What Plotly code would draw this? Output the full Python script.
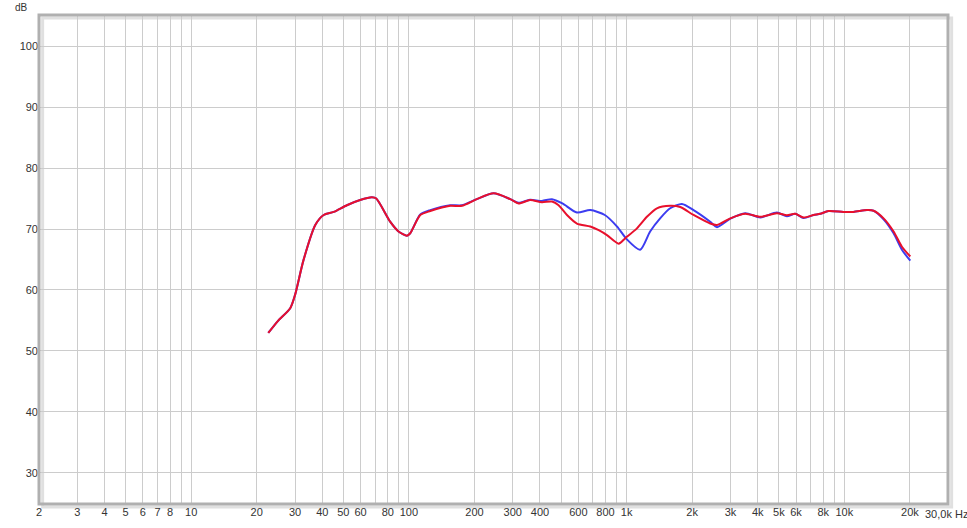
import math
import plotly.graph_objects as go

# frequency response (Hz, dB)
freq_red = [22.6, 25, 28.5, 30, 32.8, 37.2, 40.6, 45.1, 51.9, 59.7, 67.6, 70.8, 82, 89.6, 97.9,
            101.4, 112.8, 125.3, 154.8, 175, 205, 245, 292, 319, 360, 408, 454, 487, 532, 591,
            681, 744, 812, 919, 986, 1115, 1239, 1377, 1585, 1762, 2029, 2421, 2600, 2995, 3508,
            4113, 4900, 5445, 5945, 6495, 7224, 7750, 8460, 9910, 11000, 12700, 13620, 15140,
            16830, 18380, 20080]
db_red = [52.95, 54.9, 57.0, 59.2, 64.9, 70.7, 72.3, 72.8, 73.9, 74.75, 75.2, 75.0, 71.2, 69.6, 68.9,
          69.3, 72.3, 72.95, 73.8, 73.8, 74.9, 75.85, 74.9, 74.2, 74.75, 74.4, 74.5, 73.9, 72.3, 70.9,
          70.4, 69.8, 69.0, 67.6, 68.5, 70.1, 72.0, 73.4, 73.8, 73.6, 72.3, 70.9, 70.65, 71.75, 72.5,
          72.0, 72.6, 72.25, 72.5, 71.9, 72.3, 72.5, 72.95, 72.8, 72.8, 73.1, 73.0, 71.75,
          69.6, 67.1, 65.5]

freq_blue = [22.6, 25, 28.5, 30, 32.8, 37.2, 40.6, 45.1, 51.9, 59.7, 67.6, 70.8, 82, 89.6, 97.9,
             101.4, 112.8, 125.3, 154.8, 175, 205, 245, 292, 319, 360, 408, 454, 507, 591, 681,
             794, 904, 1003, 1153, 1282, 1425, 1585, 1795, 2029, 2421, 2600, 2995, 3508, 4113,
             4900, 5445, 5945, 6495, 7224, 7750, 8460, 9910, 11000, 12700, 13620, 15140, 16830,
             18380, 20080]
db_blue = [52.95, 54.9, 57.0, 59.2, 64.9, 70.7, 72.3, 72.8, 73.9, 74.75, 75.2, 75.0, 71.2, 69.6, 68.9,
           69.3, 72.4, 73.1, 73.9, 73.9, 74.9, 75.85, 74.9, 74.3, 74.8, 74.6, 74.9, 74.2, 72.7, 73.1,
           72.3, 70.4, 68.3, 66.6, 69.6, 71.75, 73.4, 74.1, 73.1, 71.2, 70.3, 71.7, 72.6,
           71.9, 72.7, 72.1, 72.5, 71.8, 72.3, 72.5, 72.95, 72.8, 72.8, 73.1, 73.0, 71.6, 69.3,
           66.6, 64.8]

grid_hz = [m * 10 ** k for k in range(0, 5) for m in range(1, 10)]
grid_hz = [g for g in grid_hz if 2 <= g <= 20000]
labels = {2: "2", 3: "3", 4: "4", 5: "5", 6: "6", 7: "7", 8: "8", 10: "10", 20: "20", 30: "30",
          40: "40", 50: "50", 60: "60", 80: "80", 100: "100", 200: "200", 300: "300", 400: "400",
          600: "600", 800: "800", 1000: "1k", 2000: "2k", 3000: "3k", 4000: "4k", 5000: "5k",
          6000: "6k", 8000: "8k", 10000: "10k", 20000: "20k"}
tick_text = [labels.get(g, "") for g in grid_hz]

db_ticks = [30, 40, 50, 60, 70, 80, 90, 100]

fig = go.Figure()
fig.add_trace(go.Scatter(x=freq_blue, y=db_blue, mode="lines",
                         line=dict(color="#3c3cf0", width=2, shape="spline", smoothing=0.7)))
fig.add_trace(go.Scatter(x=freq_red, y=db_red, mode="lines",
                         line=dict(color="#e8102c", width=2, shape="spline", smoothing=0.7)))

fig.update_layout(
    width=967, height=528,
    margin=dict(l=39, r=19, t=15, b=24, autoexpand=False),
    paper_bgcolor="white", plot_bgcolor="white",
    showlegend=False,
    font=dict(family="Liberation Sans, Arial, sans-serif", size=11, color="#333333"),
    xaxis=dict(type="log", range=[math.log10(2), 4.476], tickvals=grid_hz, ticktext=tick_text,
               showgrid=True, gridcolor="#cccccc", gridwidth=1, zeroline=False, ticks="",
               showline=False, automargin=False),
    yaxis=dict(range=[24.9, 105.1], tickvals=db_ticks, showgrid=True, gridcolor="#cccccc",
               gridwidth=1, zeroline=False, ticks="", showline=False, automargin=False),
)

# shadow + frame around plot area
fig.add_shape(type="rect", xref="paper", yref="paper", x0=0.004, y0=-0.006, x1=1.004, y1=0.994,
              line=dict(color="#e0e0e0", width=3), layer="below")
fig.add_shape(type="rect", xref="paper", yref="paper", x0=0, y0=0, x1=1, y1=1,
              line=dict(color="#b0b0b0", width=3))

fig.add_annotation(text="dB", xref="paper", yref="paper", x=-0.01, y=1.0, xanchor="right",
                   yanchor="bottom", showarrow=False, font=dict(size=10), yshift=0)
fig.add_annotation(text="30,0k Hz", xref="paper", yref="paper", x=0.973, y=0, xanchor="left",
                   yanchor="top", showarrow=False, yshift=-2)

fig.write_html("out.html", config={"displayModeBar": False},
               post_script="document.body.style.margin='0';")
